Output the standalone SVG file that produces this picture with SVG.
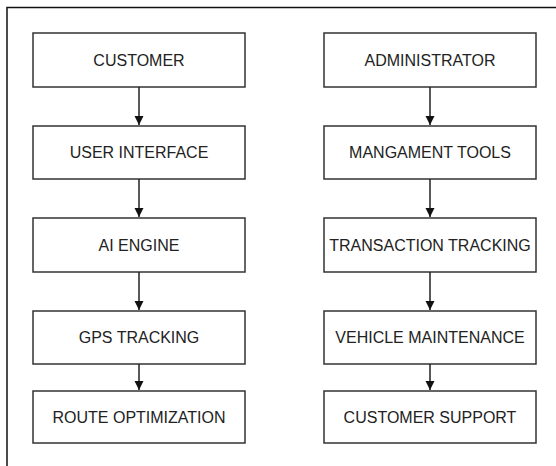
<svg xmlns="http://www.w3.org/2000/svg" width="556" height="466" viewBox="0 0 556 466">
<defs>
<style>
.box{fill:#fff;stroke:#333;stroke-width:1.5}
.lbl{font-family:"Liberation Sans",Arial,sans-serif;font-size:16px;fill:#222;text-anchor:middle;dominant-baseline:central}
.edge{stroke:#222;stroke-width:1.5;fill:none;marker-end:url(#ah)}
.frame{stroke:#111;stroke-width:1.5;fill:none}
</style>
<marker id="ah" markerWidth="10" markerHeight="10" refX="9" refY="5" orient="auto" markerUnits="userSpaceOnUse">
<path d="M0,0.5 L9,5 L0,9.5 Z" fill="#111"/>
</marker>
</defs>
<rect width="556" height="466" fill="#fff"/>
<path class="frame" d="M556,7.5 H7 V466"/>
<g id="customer"><rect class="box" x="33" y="33" width="212" height="54"/><text class="lbl" x="139" y="60">CUSTOMER</text></g>
<g id="user-interface"><rect class="box" x="33" y="126" width="212" height="53"/><text class="lbl" x="139" y="152.5">USER INTERFACE</text></g>
<g id="ai-engine"><rect class="box" x="33" y="218" width="212" height="54"/><text class="lbl" x="139" y="245">AI ENGINE</text></g>
<g id="gps-tracking"><rect class="box" x="33" y="311" width="212" height="53"/><text class="lbl" x="139" y="337.5">GPS TRACKING</text></g>
<g id="route-optimization"><rect class="box" x="33" y="391" width="212" height="52"/><text class="lbl" x="139" y="417">ROUTE OPTIMIZATION</text></g>
<g id="administrator"><rect class="box" x="324" y="33" width="212" height="54"/><text class="lbl" x="430" y="60">ADMINISTRATOR</text></g>
<g id="management-tools"><rect class="box" x="324" y="126" width="212" height="53"/><text class="lbl" x="430" y="152.5">MANGAMENT TOOLS</text></g>
<g id="transaction-tracking"><rect class="box" x="324" y="218" width="212" height="54"/><text class="lbl" x="430" y="245">TRANSACTION TRACKING</text></g>
<g id="vehicle-maintenance"><rect class="box" x="324" y="311" width="212" height="53"/><text class="lbl" x="430" y="337.5">VEHICLE MAINTENANCE</text></g>
<g id="customer-support"><rect class="box" x="324" y="391" width="212" height="52"/><text class="lbl" x="430" y="417">CUSTOMER SUPPORT</text></g>
<g id="connectors">
<path class="edge" d="M139,87 V125"/>
<path class="edge" d="M139,179 V217"/>
<path class="edge" d="M139,272 V310"/>
<path class="edge" d="M139,364 V390"/>
<path class="edge" d="M430,87 V125"/>
<path class="edge" d="M430,179 V217"/>
<path class="edge" d="M430,272 V310"/>
<path class="edge" d="M430,364 V390"/>
</g>
</svg>
